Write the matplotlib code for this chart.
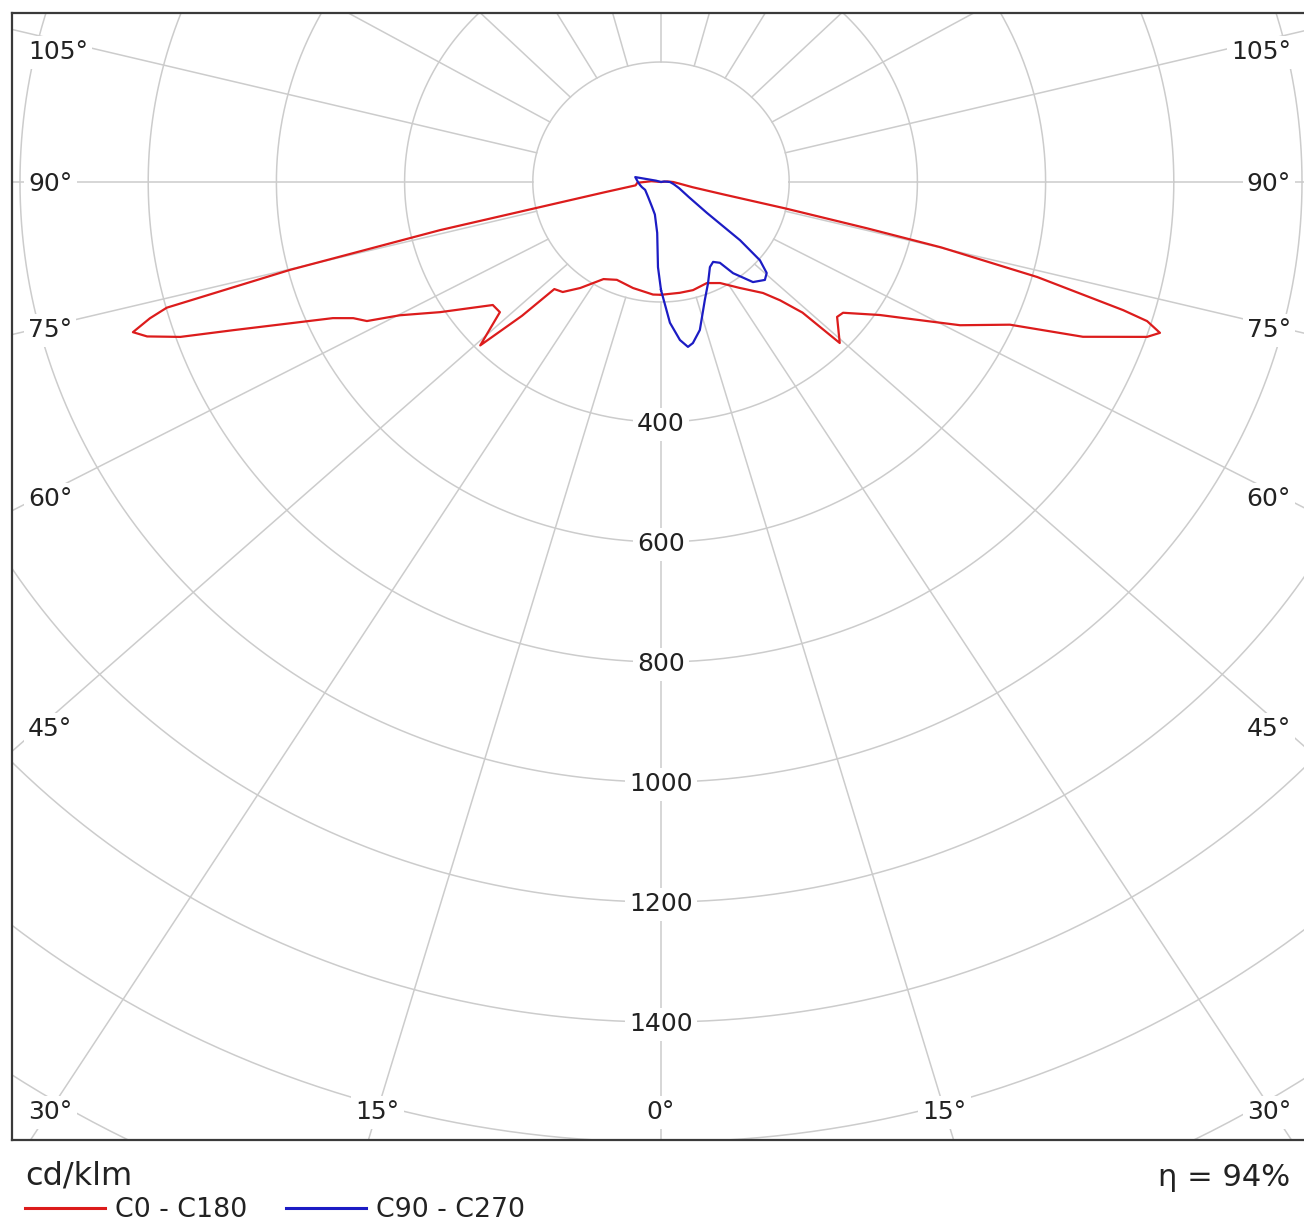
import numpy as np
import matplotlib
matplotlib.use("Agg")
import matplotlib.pyplot as plt
from matplotlib.lines import Line2D

# ---------------- data (cd/klm versus gamma angle from nadir, degrees) ----------------
c0_gamma = [0, 9, 15.5, 23, 28.7, 34.8, 40.7, 43.3, 45.4, 46.1, 50.7, 52.5, 57, 59,
            62.9, 66.4, 68.6, 71.2, 72.1, 73, 73.5, 74.9, 76, 76.5, 77.2, 78, 80, 85, 90, 95, 180]
c0_cd = [188, 187, 187, 183, 192, 215, 244, 271, 310, 387, 355, 358, 407, 440,
         524, 594, 707, 801, 818, 793, 752, 608, 450, 330, 200, 100, 50, 28, 19, 10, 0]

c180_gamma = [0, 3.8, 13.9, 22.9, 29, 35.5, 39.9, 43.0, 44.2, 46, 49.2, 52, 57.8, 61.4,
              63.2, 64.7, 66.1, 69.7, 71, 72.2, 73.1, 74.1, 74.8, 75.8, 76.9, 77.5, 79, 82,
              88, 95, 180]
c180_cd = [188, 188, 182, 177, 185, 217, 239, 244, 311, 392, 332, 333, 407, 464,
           514, 531, 560, 712, 793, 842, 861, 829, 799, 597, 354, 193, 90, 40,
           37, 15, 0]

c90_gamma = [0, 3.4, 6.4, 8.7, 10.5, 13.8, 19.2, 23.5, 28.3, 31.4, 34.3, 36.5, 40.7,
             44.8, 47.4, 49.8, 51.8, 54.3, 60, 70, 80, 90, 100, 180]
c90_cd = [180, 235, 265, 278, 273, 254, 208, 184, 161, 156, 163, 189, 220,
          230, 224, 202, 157, 88, 50, 30, 20, 14, 5, 0]

c270_gamma = [0, 1.9, 4, 10, 18.4, 39, 62, 74, 81, 90, 101.5, 106, 180]
c270_cd = [180, 142, 85, 55, 44, 32, 28, 31, 33, 36, 41, 8, 0]

ring_values = [200, 400, 600, 800, 1000, 1200, 1400, 1600, 1800, 2000]
ring_labels = [400, 600, 800, 1000, 1200, 1400]
ray_angles = np.arange(0, 360, 15)
side_label_angles = [30, 45, 60, 75, 90, 105]
bottom_label_angles = [0, 15]
series_names = ["C0 - C180", "C90 - C270"]
efficiency_text = "\u03b7 = 94%"
unit_text = "cd/klm"

# ---------------- layout (pixels) ----------------
W, H = 1304, 1225
SX, SY = 0.641, 0.600          # px per cd/klm (horizontal, vertical)
CX, CY = 661, 182              # pole position in pixels
AX_L, AX_R, AX_T, AX_B = 12, 1306, 13, 1140
K_LOW = 1.067                  # ray direction stretch (lower half) as in the reference
K_UP = 1.0                     # upper rays

RED = "#dc1c1c"
BLUE = "#1c1cc4"
GRID = "#cccccc"


def px2data(px, py):
    return (px - CX) / SX, (CY - py) / SY


def ray_k(g):
    gg = g % 360
    gg = min(gg, 360 - gg)
    return K_LOW if gg <= 105 else K_UP


fig = plt.figure(figsize=(W / 100, H / 100), dpi=100)
ax = fig.add_axes([AX_L / W, 1 - AX_B / H, (AX_R - AX_L) / W, (AX_B - AX_T) / H])
x0, y1 = px2data(AX_L, AX_T)
x1, y0 = px2data(AX_R, AX_B)
ax.set_xlim(x0, x1)
ax.set_ylim(y0, y1)
ax.set_xticks([])
ax.set_yticks([])
for s in ["left", "top", "bottom", "right"]:
    ax.spines[s].set_color("#3a3a3a")
    ax.spines[s].set_linewidth(1.6)

# rings
t = np.linspace(0, 2 * np.pi, 721)
for r in ring_values:
    ax.plot(r * np.cos(t), r * np.sin(t), color=GRID, lw=1.1, zorder=1)

# rays, starting at the first ring
for g in ray_angles:
    gr = np.radians(g)
    d = np.array([ray_k(g) * np.sin(gr), -np.cos(gr)])
    d = d / np.hypot(*d)
    ax.plot([200 * d[0], 4000 * d[0]], [200 * d[1], 4000 * d[1]], color=GRID, lw=1.1, zorder=1)

FS = 18
box = dict(facecolor="white", edgecolor="none", pad=3)

# ring labels along the 0 deg ray
for r in ring_labels:
    ax.text(0, -r, str(r), fontsize=FS, ha="center", va="center_baseline",
            color="#222222", bbox=box, zorder=3)

# angle labels
y_lo = px2data(0, 1110)[1]
y_hi = px2data(0, 50)[1]
xr = abs(px2data(40, 0)[0])
for side, xpx, ha in [(-1, 28, "left"), (1, 1291, "right")]:
    xa = px2data(xpx, 0)[0]
    for g in side_label_angles:
        gr = np.radians(g)
        yd = -xr * np.cos(gr) / (ray_k(g) * np.sin(gr))
        yd = min(max(yd, y_lo), y_hi)
        ax.text(xa, yd, f"{g}\u00b0", fontsize=FS, ha=ha, va="center_baseline",
                color="#222222", bbox=box, zorder=3)
for side in (-1, 1):
    for g in bottom_label_angles:
        if g == 0 and side == 1:
            continue
        xd = side * abs(y_lo) * ray_k(g) * np.tan(np.radians(g))
        ax.text(xd, y_lo, f"{g}\u00b0", fontsize=FS, ha="center", va="center_baseline",
                color="#222222", bbox=box, zorder=3)


# curves
def loop(g_pos, r_pos, g_neg, r_neg):
    gp = np.radians(np.asarray(g_pos, float))
    gn = np.radians(np.asarray(g_neg, float))[::-1]
    rp = np.asarray(r_pos, float)
    rn = np.asarray(r_neg, float)[::-1]
    x = np.concatenate([rp * np.sin(gp), -rn * np.sin(gn)])
    y = np.concatenate([-rp * np.cos(gp), -rn * np.cos(gn)])
    return x, y


xr_, yr_ = loop(c0_gamma, c0_cd, c180_gamma, c180_cd)
ax.plot(xr_, yr_, color=RED, lw=1.6, zorder=4)
xb_, yb_ = loop(c90_gamma, c90_cd, c270_gamma, c270_cd)
ax.plot(xb_, yb_, color=BLUE, lw=1.6, zorder=5)

# texts under the chart
fig.text(25 / W, 1 - 1176 / H, unit_text, fontsize=23, ha="left", va="center", color="#222222")
fig.text(1290 / W, 1 - 1177 / H, efficiency_text, fontsize=22, ha="right", va="center",
         color="#222222")

handles = [Line2D([], [], color=RED, lw=2.2), Line2D([], [], color=BLUE, lw=2.2)]
fig.legend(handles, series_names, loc="center left", bbox_to_anchor=(25 / W, 1 - 1210 / H),
           ncol=2, frameon=False, fontsize=19.3, handlelength=2.98, handletextpad=0.38,
           columnspacing=1.45, borderpad=0, borderaxespad=0, labelcolor="#222222")

fig.savefig("out.png", dpi=100)
